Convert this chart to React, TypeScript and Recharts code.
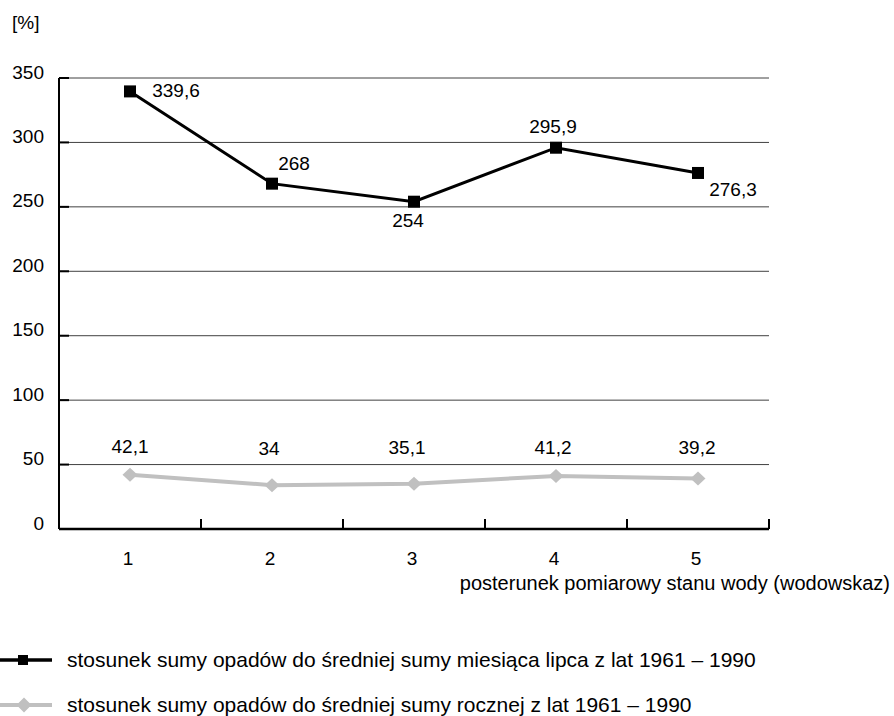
import React from "react";
import {
  LineChart,
  Line,
  XAxis,
  YAxis,
  CartesianGrid,
  LabelList,
  ReferenceLine,
  Legend,
} from "recharts";

// ---- data ----
const stations = [1, 2, 3, 4, 5];
const julyRatio = [339.6, 268, 254, 295.9, 276.3];
const annualRatio = [42.1, 34, 35.1, 41.2, 39.2];
const yTicks = [0, 50, 100, 150, 200, 250, 300, 350];
const stationBoundaries = [1.5, 2.5, 3.5, 4.5, 5.5];
const seriesNames = [
  "stosunek sumy opadów do średniej sumy miesiąca lipca z lat 1961 – 1990",
  "stosunek sumy opadów do średniej sumy rocznej z lat 1961 – 1990",
];
const yUnit = "[%]";
const xTitle = "posterunek pomiarowy stanu wody (wodowskaz)";

// label placement (style, not data)
const julyLabelOffsets: [number, number][] = [
  [46, -1],
  [22, -20],
  [-6, 19],
  [-3, -21],
  [35, 17],
];
const annualLabelOffsets: [number, number][] = [
  [0, -28],
  [-3, -37],
  [-7, -36],
  [-3, -28],
  [-1, -31],
];

const data = stations.map((s, i) => ({
  station: s,
  july: julyRatio[i],
  annual: annualRatio[i],
}));

const FONT = "'Liberation Sans', Arial, sans-serif";
const BLACK = "#000000";
const GRAY = "#c0c0c0";

const fmt = (v: number) => String(v).replace(".", ",");

const SquareDot = (props: any) => {
  const { cx, cy } = props;
  if (cx == null || cy == null) return null;
  return <rect x={cx - 6} y={cy - 6} width={12} height={12} fill={BLACK} />;
};

const DiamondDot = (props: any) => {
  const { cx, cy } = props;
  if (cx == null || cy == null) return null;
  return (
    <polygon
      points={`${cx},${cy - 7} ${cx + 7.5},${cy} ${cx},${cy + 7} ${cx - 7.5},${cy}`}
      fill={GRAY}
    />
  );
};

const makeLabel = (offsets: [number, number][]) => (props: any) => {
  const { x, y, value, index } = props;
  const [dx, dy] = offsets[index] || [0, 0];
  return (
    <text
      x={x + dx}
      y={y + dy}
      textAnchor="middle"
      dominantBaseline="central"
      fontFamily={FONT}
      fontSize={19}
      fill={BLACK}
    >
      {fmt(value)}
    </text>
  );
};

const YTick = (props: any) => {
  const { x, y, payload } = props;
  return (
    <g>
      <line x1={x} x2={x + 10} y1={y} y2={y} stroke={BLACK} strokeWidth={2} />
      <text
        x={x - 15}
        y={y - 6}
        textAnchor="end"
        dominantBaseline="central"
        fontFamily={FONT}
        fontSize={19}
        fill={BLACK}
      >
        {payload.value}
      </text>
    </g>
  );
};

const XTick = (props: any) => {
  const { x, y, payload } = props;
  return (
    <text
      x={x - 2}
      y={y + 29}
      textAnchor="middle"
      dominantBaseline="central"
      fontFamily={FONT}
      fontSize={19}
      fill={BLACK}
    >
      {payload.value}
    </text>
  );
};

const BoundaryTick = (props: any) => {
  const { x1, y1, y2 } = props;
  const yb = Math.max(y1, y2);
  return <line x1={x1} x2={x1} y1={yb} y2={yb - 10} stroke={BLACK} strokeWidth={2} />;
};

const LegendIcon = ({ kind }: { kind: number }) => (
  <svg width={60} height={24} style={{ display: "block", flex: "none" }}>
    {kind === 0 ? (
      <>
        <line x1={0} x2={52} y1={12} y2={12} stroke={BLACK} strokeWidth={3.5} />
        <rect x={18} y={7} width={10} height={10} fill={BLACK} />
      </>
    ) : (
      <>
        <line x1={0} x2={52} y1={12} y2={12} stroke={GRAY} strokeWidth={4} />
        <polygon points="24,4.5 31.5,12 24,19.5 16.5,12" fill={GRAY} />
      </>
    )}
  </svg>
);

const LegendContent = () => (
  <div style={{ fontFamily: FONT, fontSize: 21, color: BLACK }}>
    {seriesNames.map((name, i) => (
      <div
        key={name}
        style={{ display: "flex", alignItems: "center", height: 45, whiteSpace: "nowrap" }}
      >
        <LegendIcon kind={i} />
        <span style={{ marginLeft: 7 }}>{name}</span>
      </div>
    ))}
  </div>
);

export default function App() {
  return (
    <div style={{ position: "absolute", top: 0, left: 0, width: 894, height: 716, background: "#fff" }}>
      <LineChart
        width={894}
        height={716}
        data={data}
        margin={{ top: 78, right: 125, left: 0, bottom: 147 }}
      >
        <CartesianGrid vertical={false} stroke="#404040" strokeWidth={1} />
        <YAxis
          type="number"
          domain={[0, 350]}
          ticks={yTicks}
          interval={0}
          width={59}
          tickSize={0}
          tickMargin={0}
          tickLine={false}
          axisLine={{ stroke: BLACK, strokeWidth: 2 }}
          tick={<YTick />}
          label={(p: any) => {
            const vb = p.viewBox || { x: 0, y: 78 };
            return (
              <text
                x={vb.x + 12}
                y={vb.y - 56}
                dominantBaseline="central"
                fontFamily={FONT}
                fontSize={19}
                fill={BLACK}
              >
                {yUnit}
              </text>
            );
          }}
        />
        <XAxis
          type="number"
          dataKey="station"
          domain={[0.5, 5.5]}
          ticks={stations}
          interval={0}
          height={40}
          tickSize={0}
          tickMargin={0}
          tickLine={false}
          axisLine={{ stroke: BLACK, strokeWidth: 2.5 }}
          tick={<XTick />}
          label={(p: any) => {
            const vb = p.viewBox || { x: 59, y: 529, width: 710 };
            return (
              <text
                x={vb.x + vb.width + 121}
                y={vb.y + 54}
                textAnchor="end"
                dominantBaseline="central"
                fontFamily={FONT}
                fontSize={20}
                fill={BLACK}
              >
                {xTitle}
              </text>
            );
          }}
        />
        {stationBoundaries.map((b) => (
          <ReferenceLine key={b} x={b} stroke={BLACK} shape={<BoundaryTick />} />
        ))}
        <Line
          dataKey="annual"
          name={seriesNames[1]}
          stroke={GRAY}
          strokeWidth={4}
          dot={<DiamondDot />}
          activeDot={false}
          isAnimationActive={false}
        >
          <LabelList dataKey="annual" content={makeLabel(annualLabelOffsets)} />
        </Line>
        <Line
          dataKey="july"
          name={seriesNames[0]}
          stroke={BLACK}
          strokeWidth={3}
          dot={<SquareDot />}
          activeDot={false}
          isAnimationActive={false}
        >
          <LabelList dataKey="july" content={makeLabel(julyLabelOffsets)} />
        </Line>
        <Legend
          layout="vertical"
          verticalAlign="middle"
          align="center"
          content={<LegendContent />}
          wrapperStyle={{ position: "absolute", left: 0, top: 637, width: 894, height: 92 }}
        />
      </LineChart>
    </div>
  );
}
